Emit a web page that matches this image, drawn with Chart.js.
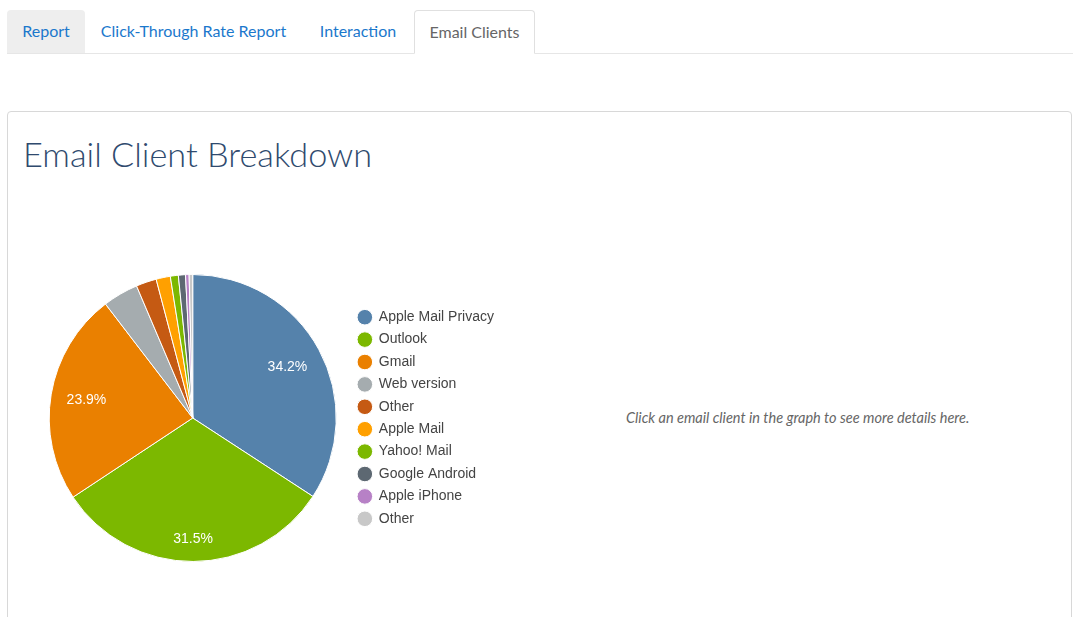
<!DOCTYPE html>
<html>
<head>
<meta charset="utf-8">
<title>Email Client Breakdown</title>
<script src="https://cdn.jsdelivr.net/npm/chart.js@4"></script>
<style>
  html, body { margin: 0; padding: 0; background: #fff; width: 1073px; height: 617px; overflow: hidden; }
  body { position: relative; font-family: Lato, "Open Sans", sans-serif; }
  .tabline { position: absolute; left: 7px; right: 0; top: 53px; border-top: 1px solid #e6e6e6; }
  .tab { position: absolute; top: 10px; height: 43px; line-height: 42px; font-size: 16px; text-align: center; color: #1b78cc; box-sizing: border-box; }
  .tab.grey { background: #eeeeee; border-radius: 4px 4px 0 0; }
  .tab.active { background: #fff; color: #666; border: 1px solid #e0e0e0; border-bottom: 1px solid #fff; border-radius: 4px 4px 0 0; height: 44px; }
  .card { position: absolute; left: 7px; top: 111px; width: 1065px; height: 540px; box-sizing: border-box; border: 1px solid #d8d8d8; border-radius: 4px; }
  h1 { position: absolute; left: 23px; top: 132px; margin: 0; font-size: 34.3px; line-height: 44px; font-weight: 300; color: #2f4a6e; }
  .hint { position: absolute; left: 626px; top: 409px; font-size: 14.5px; line-height: 18px; font-style: italic; color: #666; }
  .chart-box { position: absolute; left: 36px; top: 274px; width: 468px; height: 288px; }
</style>
</head>
<body>
<div class="tabline"></div>
<div class="tab grey" style="left:7px;width:78px">Report</div>
<div class="tab" style="left:85px;width:217px">Click-Through Rate Report</div>
<div class="tab" style="left:302px;width:112px">Interaction</div>
<div class="tab active" style="left:414px;width:121px">Email Clients</div>
<div class="card"></div>
<h1>Email Client Breakdown</h1>
<div class="chart-box"><canvas id="pie"></canvas></div>
<div class="hint">Click an email client in the graph to see more details here.</div>
<script>
const clients = ['Apple Mail Privacy', 'Outlook', 'Gmail', 'Web version', 'Other', 'Apple Mail', 'Yahoo! Mail', 'Google Android', 'Apple iPhone', 'Other'];
const shares = [34.2, 31.5, 23.9, 4.0, 2.3, 1.6, 0.9, 0.8, 0.4, 0.4];
const colors = ['#5582ab', '#7cb800', '#ea8000', '#a5acaf', '#c55a13', '#ffa000', '#7cb800', '#5d6872', '#b781c6', '#c8c8c8'];

// percent text on the big slices only, kept a fixed gap inside the rim
const sliceLabels = {
  id: 'sliceLabels',
  afterDatasetsDraw(chart) {
    const ctx = chart.ctx;
    ctx.save();
    ctx.font = '14px "Liberation Sans"';
    ctx.fillStyle = '#fff';
    ctx.textAlign = 'center';
    ctx.textBaseline = 'middle';
    chart.getDatasetMeta(0).data.forEach((arc, i) => {
      if (shares[i] < 5) return;
      const text = shares[i].toFixed(1) + '%';
      const mid = (arc.startAngle + arc.endAngle) / 2;
      const cos = Math.cos(mid), sin = Math.sin(mid);
      const halfW = ctx.measureText(text).width / 2;
      const r = arc.outerRadius - 15 - Math.abs(cos) * halfW - Math.abs(sin) * 7;
      ctx.fillText(text, arc.x + cos * r, arc.y + sin * r);
    });
    ctx.restore();
  }
};

new Chart(document.getElementById('pie'), {
  type: 'pie',
  data: {
    labels: clients,
    datasets: [{ data: shares, backgroundColor: colors, borderColor: '#fff', borderWidth: 1 }]
  },
  plugins: [sliceLabels],
  options: {
    responsive: true,
    maintainAspectRatio: false,
    animation: false,
    layout: { padding: 0 },
    plugins: {
      tooltip: { enabled: false },
      legend: {
        position: 'right',
        align: 'center',
        labels: {
          usePointStyle: true,
          pointStyle: 'circle',
          boxWidth: 15,
          boxHeight: 11,
          padding: 8.4,
          color: '#444',
          font: { family: '"Liberation Sans"', size: 14 }
        }
      }
    }
  }
});
</script>
</body>
</html>
